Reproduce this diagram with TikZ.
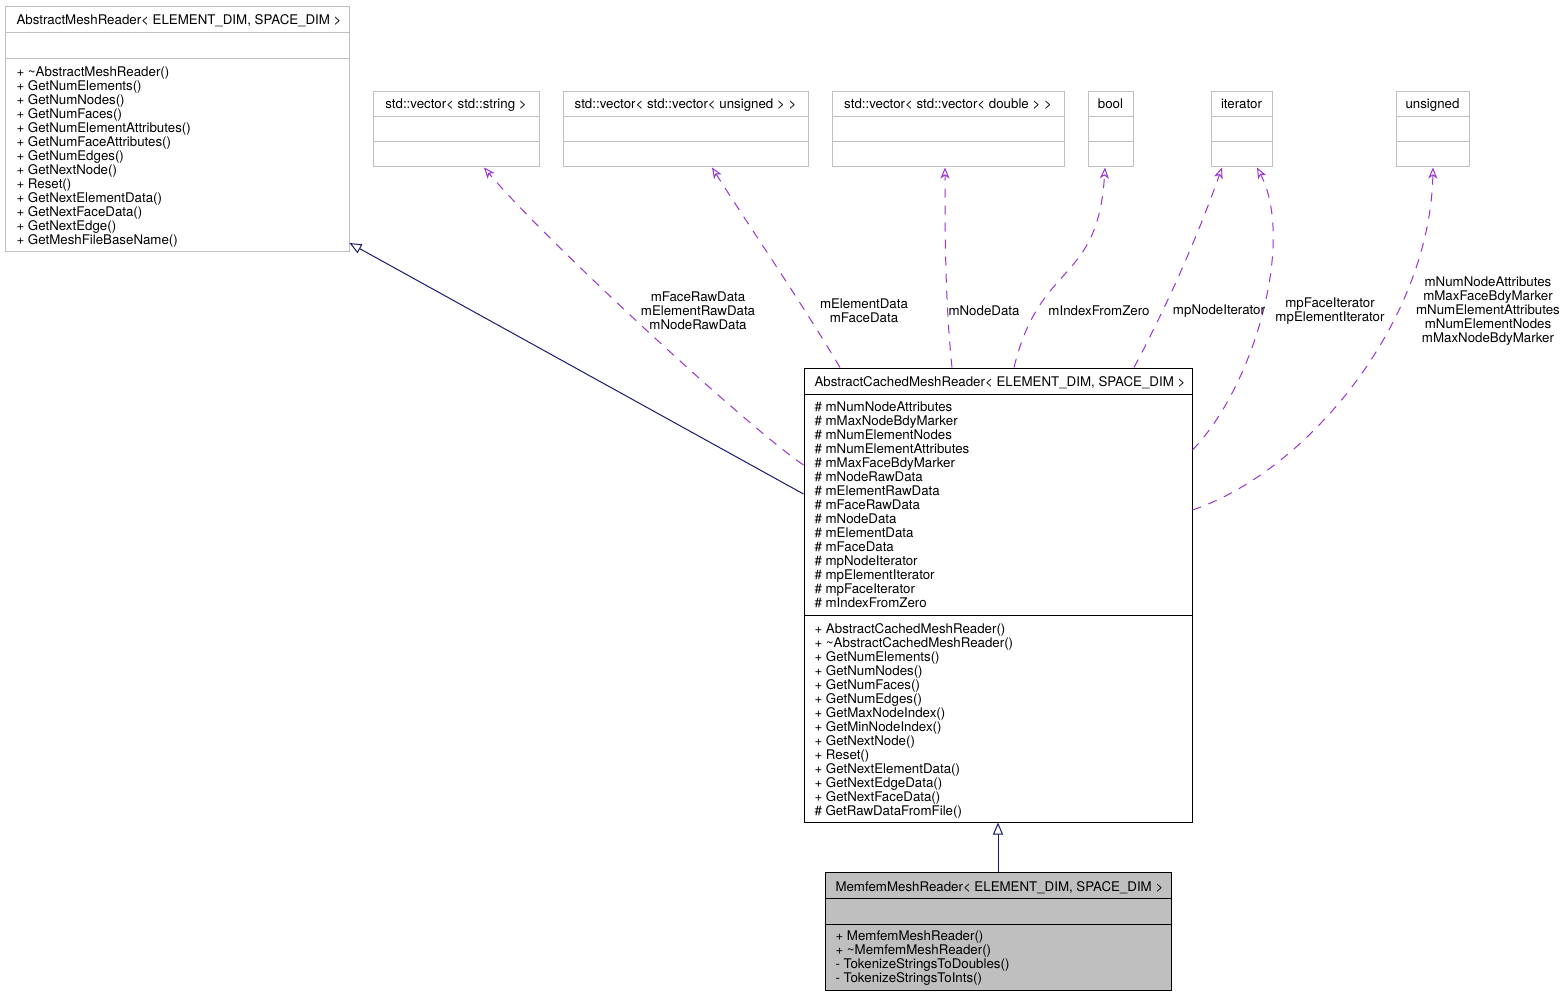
\documentclass[tikz,border=0pt]{standalone}
\usepackage{fontspec}
\setmainfont{TeX Gyre Heros}
\usetikzlibrary{arrows.meta,positioning}
\definecolor{frame}{HTML}{BFBFBF}
\definecolor{member}{HTML}{9A32CD}
\definecolor{inherit}{HTML}{191970}

\begin{document}
\begin{tikzpicture}[x=1pt,y=-1pt,line width=1pt,
  font=\fontsize{13.3}{14}\selectfont,
  cls/.style={draw=frame,inner sep=0},
  txt/.style={inner sep=0},
  lst/.style={inner sep=0,anchor=north west,align=left},
  mem/.style={draw=member,dash pattern=on 9pt off 8pt,-{Stealth[open,length=11pt,width=9pt,inset=3pt]}},
  inh/.style={draw=inherit,-{Triangle[open,length=12pt,width=10pt]}}]
  \useasboundingbox (0,0) rectangle (1563,995);

  \node[cls,minimum width=344,minimum height=244] (base) at (177,129) {};
  \draw[frame] (5,33) -- (349,33) (5,59) -- (349,59);
  \node[txt,anchor=base west] (basetitle) at (16,24.5) {AbstractMeshReader< ELEMENT\_DIM, SPACE\_DIM >};
  \node[lst] (baseops) at (16,66) {+ \textasciitilde AbstractMeshReader()\\+ GetNumElements()\\+ GetNumNodes()\\+ GetNumFaces()\\+ GetNumElementAttributes()\\+ GetNumFaceAttributes()\\+ GetNumEdges()\\+ GetNextNode()\\+ Reset()\\+ GetNextElementData()\\+ GetNextFaceData()\\+ GetNextEdge()\\+ GetMeshFileBaseName()};

  \node[cls,minimum width=166,minimum height=75] (vstr) at (456,129.5) {};
  \draw[frame] (373,117) -- (539,117) (373,142) -- (539,142);
  \node[txt,anchor=base] at (456,109) {std::vector< std::string >};

  \node[cls,minimum width=245,minimum height=75] (vuns) at (685.5,129.5) {};
  \draw[frame] (563,117) -- (808,117) (563,142) -- (808,142);
  \node[txt,anchor=base] at (685.5,109) {std::vector< std::vector< unsigned > >};

  \node[cls,minimum width=232,minimum height=75] (vdbl) at (948,129.5) {};
  \draw[frame] (832,117) -- (1064,117) (832,142) -- (1064,142);
  \node[txt,anchor=base] at (948,109) {std::vector< std::vector< double > >};

  \node[cls,minimum width=45,minimum height=75] (bool) at (1110.5,129.5) {};
  \draw[frame] (1088,117) -- (1133,117) (1088,142) -- (1133,142);
  \node[txt,anchor=base] at (1110.5,109) {bool};

  \node[cls,minimum width=61,minimum height=75] (iter) at (1241.5,129.5) {};
  \draw[frame] (1211,117) -- (1272,117) (1211,142) -- (1272,142);
  \node[txt,anchor=base] at (1241.5,109) {iterator};

  \node[cls,minimum width=73,minimum height=75] (uns) at (1432.5,129.5) {};
  \draw[frame] (1396,117) -- (1469,117) (1396,142) -- (1469,142);
  \node[txt,anchor=base] at (1432.5,109) {unsigned};

  \node[draw,inner sep=0,minimum width=388,minimum height=454] (cached) at (998,595) {};
  \draw (804,394) -- (1192,394) (804,615) -- (1192,615);
  \node[txt,anchor=base west] (cachedtitle) at (814,386.5) {AbstractCachedMeshReader< ELEMENT\_DIM, SPACE\_DIM >};
  \node[lst] (cachedattrs) at (814,401) {\# mNumNodeAttributes\\\# mMaxNodeBdyMarker\\\# mNumElementNodes\\\# mNumElementAttributes\\\# mMaxFaceBdyMarker\\\# mNodeRawData\\\# mElementRawData\\\# mFaceRawData\\\# mNodeData\\\# mElementData\\\# mFaceData\\\# mpNodeIterator\\\# mpElementIterator\\\# mpFaceIterator\\\# mIndexFromZero};
  \node[lst] (cachedops) at (814,623) {+ AbstractCachedMeshReader()\\+ \textasciitilde AbstractCachedMeshReader()\\+ GetNumElements()\\+ GetNumNodes()\\+ GetNumFaces()\\+ GetNumEdges()\\+ GetMaxNodeIndex()\\+ GetMinNodeIndex()\\+ GetNextNode()\\+ Reset()\\+ GetNextElementData()\\+ GetNextEdgeData()\\+ GetNextFaceData()\\\# GetRawDataFromFile()};

  \node[draw,fill=frame,inner sep=0,minimum width=346,minimum height=118] (reader) at (998,931) {};
  \draw (825,898) -- (1171,898) (825,924) -- (1171,924);
  \node[txt,anchor=base west] (readertitle) at (835,891) {MemfemMeshReader< ELEMENT\_DIM, SPACE\_DIM >};
  \node[lst] (readerops) at (835,930) {+ MemfemMeshReader()\\+ \textasciitilde MemfemMeshReader()\\- TokenizeStringsToDoubles()\\- TokenizeStringsToInts()};

  \draw[inh] (cached.west |- 0,494) -- (base.east |- 0,243);
  \draw[inh] (reader.north) -- (cached.south);

  \draw[mem] (cached.west |- 0,465) .. controls (745,425) and (545,240) .. (vstr.south -| 484,0);
  \draw[mem] (cached.north -| 840,0) .. controls (800,300) and (745,220) .. (vuns.south -| 712,0);
  \draw[mem] (cached.north -| 952,0) .. controls (945,300) and (945,230) .. (vdbl.south -| 945,0);
  \draw[mem] (cached.north -| 1014,0) .. controls (1040,260) and (1098,285) .. (bool.south -| 1105,0);
  \draw[mem] (cached.north -| 1134,0) .. controls (1170,300) and (1200,230) .. (iter.south -| 1222,0);
  \draw[mem] (cached.east |- 0,450) .. controls (1255,385) and (1295,240) .. (iter.south -| 1257,0);
  \draw[mem] (cached.east |- 0,510) .. controls (1310,470) and (1430,320) .. (uns.south -| 1433,0);

  \node[txt,align=center] (rawlbl) at (698,311) {mFaceRawData\\mElementRawData\\mNodeRawData};
  \node[txt,align=center] (datalbl) at (864,311) {mElementData\\mFaceData};
  \node[txt] (nodelbl) at (984,311) {mNodeData};
  \node[txt] (zerolbl) at (1099,311) {mIndexFromZero};
  \node[txt] (nodeitlbl) at (1219,311) {mpNodeIterator};
  \node[txt,align=center] (itlbl) at (1330,311) {mpFaceIterator\\mpElementIterator};
  \node[txt,align=center] (attrlbl) at (1488,311) {mNumNodeAttributes\\mMaxFaceBdyMarker\\mNumElementAttributes\\mNumElementNodes\\mMaxNodeBdyMarker};
\end{tikzpicture}
\end{document}
